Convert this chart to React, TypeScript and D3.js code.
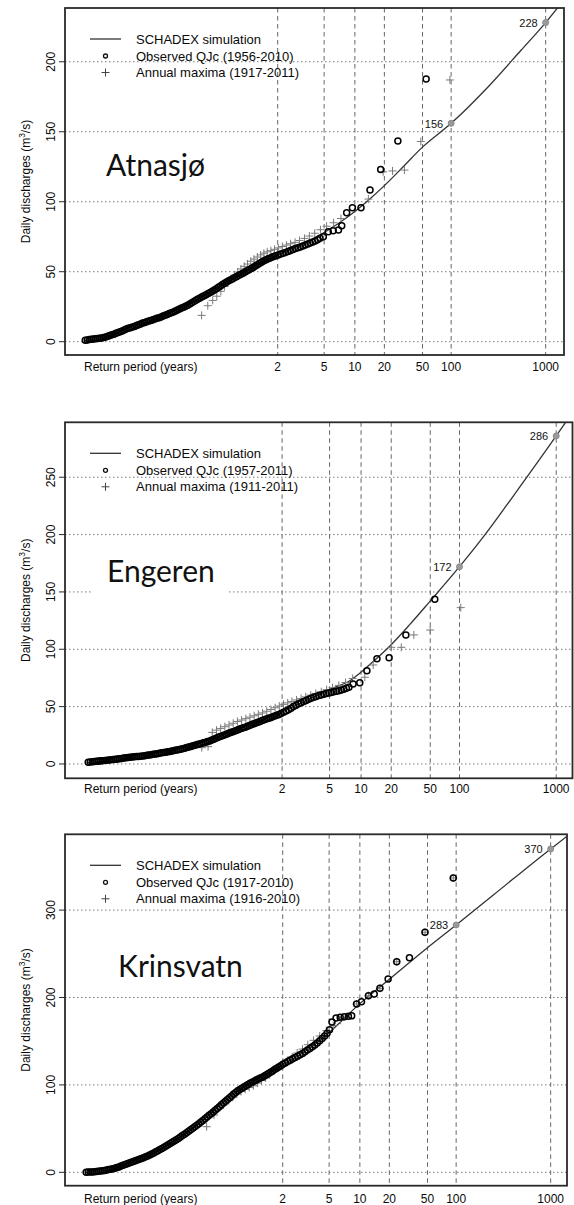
import React from 'react';
import * as d3 from 'd3';

type Pt = [number, number]; // [reduced Gumbel variate, discharge m3/s]

// Return periods (years) marked on the x axis
const returnPeriods = [2, 5, 10, 20, 50, 100, 1000];

// Reduced Gumbel variate of an annual return period
const gumbel = (T: number) => -Math.log(-Math.log(1 - 1 / T));

/* ---------------- Atnasjø ---------------- */
const atnaYTicks = [0, 50, 100, 150, 200];
const atnaSim: Pt[] = [
  [-4.35, 0.8], [-3.8, 3.8], [-3.3, 9.5], [-2.5, 17.6], [-1.7, 28.8], [-0.9, 42.5],
  [-0.1, 56], [0.37, 62], [0.75, 67], [1.1, 71], [1.5, 78], [1.9, 85.5], [2.25, 93],
  [2.58, 101], [2.97, 111.5], [3.43, 125], [3.9, 139], [4.6, 156], [5.5, 182],
  [6.3, 208], [6.907, 228], [7.4, 246],
];
const atnaObs: Pt[] = [
  [-4.33, 1.0], [-4.28, 1.3], [-4.23, 1.6], [-4.18, 1.8], [-4.13, 1.9], [-4.08, 2.1],
  [-4.03, 2.3], [-3.98, 2.5], [-3.93, 2.7], [-3.88, 3.0], [-3.83, 3.4], [-3.78, 3.9],
  [-3.73, 4.4], [-3.68, 4.9], [-3.63, 5.4], [-3.58, 6.0], [-3.53, 6.6], [-3.48, 7.1],
  [-3.43, 7.7], [-3.38, 8.4], [-3.33, 9.1], [-3.28, 9.6], [-3.23, 10.0], [-3.18, 10.5],
  [-3.13, 10.9], [-3.08, 11.5], [-3.03, 12.1], [-2.98, 12.7], [-2.93, 13.3], [-2.88, 13.8],
  [-2.83, 14.3], [-2.78, 14.8], [-2.73, 15.2], [-2.68, 15.7], [-2.63, 16.2], [-2.58, 16.7],
  [-2.53, 17.2], [-2.48, 17.7], [-2.43, 18.3], [-2.38, 18.9], [-2.33, 19.5], [-2.28, 20.1],
  [-2.23, 20.7], [-2.18, 21.3], [-2.13, 22.0], [-2.08, 22.6], [-2.03, 23.3], [-1.98, 24.0],
  [-1.93, 24.7], [-1.88, 25.4], [-1.83, 26.1], [-1.78, 26.9], [-1.73, 27.8], [-1.68, 28.7],
  [-1.63, 29.6], [-1.58, 30.5], [-1.53, 31.3], [-1.48, 32.1], [-1.43, 32.9], [-1.38, 33.6],
  [-1.33, 34.4], [-1.28, 35.2], [-1.23, 36.0], [-1.18, 36.9], [-1.13, 37.9], [-1.08, 38.9],
  [-1.03, 39.8], [-0.98, 40.8], [-0.93, 41.8], [-0.88, 42.7], [-0.83, 43.6], [-0.78, 44.3],
  [-0.73, 45.0], [-0.68, 45.8], [-0.63, 46.6], [-0.58, 47.4], [-0.53, 48.1], [-0.48, 48.9],
  [-0.43, 49.8], [-0.38, 50.6], [-0.33, 51.4], [-0.28, 52.3], [-0.23, 53.1], [-0.18, 54.0],
  [-0.13, 55.0], [-0.08, 55.9], [-0.03, 56.8], [0.02, 57.6], [0.07, 58.4], [0.12, 59.0],
  [0.17, 59.7], [0.22, 60.3], [0.27, 60.9], [0.32, 61.4], [0.38, 62.0], [0.44, 62.6],
  [0.5, 63.2], [0.56, 63.8], [0.62, 64.5], [0.68, 65.2], [0.74, 65.9], [0.8, 66.6],
  [0.86, 67.1], [0.92, 67.7], [0.98, 68.4], [1.04, 69.0], [1.1, 69.8], [1.16, 70.5],
  [1.22, 71.2], [1.28, 72.0], [1.34, 72.9], [1.4, 73.9], [1.48, 75.0],
  [1.6, 78.6], [1.72, 79.3], [1.85, 79.8], [1.93, 82.9], [2.05, 92.1], [2.19, 95.7],
  [2.4, 95.7], [2.62, 108.4], [2.88, 123.1], [3.3, 143.4], [3.99, 187.6],
];
const atnaMax: Pt[] = [
  [-1.49, 18.8], [-1.34, 25.7], [-1.22, 29.5], [-1.12, 32.5], [-1.02, 36.0], [-0.93, 39.5],
  [-0.85, 42.5], [-0.77, 45.0], [-0.69, 47.5], [-0.61, 49.8], [-0.53, 52.0], [-0.45, 53.8],
  [-0.37, 55.5], [-0.29, 57.5], [-0.21, 59.0], [-0.13, 60.5], [-0.05, 62.0], [0.03, 63.2],
  [0.11, 64.2], [0.2, 65.0], [0.29, 66.0], [0.38, 67.0], [0.48, 68.0], [0.58, 69.0],
  [0.68, 70.0], [0.79, 71.0], [0.9, 72.3], [1.02, 73.8], [1.14, 75.5], [1.27, 77.5],
  [1.41, 80.0], [1.56, 82.5], [1.73, 85.0], [1.91, 88.0], [2.58, 101.9], [2.94, 121.4],
  [3.17, 122.0], [3.46, 122.6], [3.86, 143.0], [4.57, 187.0],
];
const atnaQuantiles = [{ T: 100, q: 156 }, { T: 1000, q: 228 }];

/* ---------------- Engeren ---------------- */
const engYTicks = [0, 50, 100, 150, 200, 250];
const engSim: Pt[] = [
  [-4.3, 1.0], [-3.3, 5.6], [-2.5, 9.8], [-1.75, 16.5], [-1.2, 23.5], [-0.56, 32.5],
  [0.0, 40], [0.37, 45.5], [0.8, 53], [1.1, 58], [1.5, 65], [2.0, 73], [2.22, 79],
  [2.5, 88], [2.97, 104], [3.4, 121], [3.9, 142], [4.6, 172], [5.2, 199.5], [5.9, 234.5],
  [6.907, 286], [7.4, 312],
];
const engObs: Pt[] = [
  [-4.26, 1.5], [-4.21, 1.7], [-4.16, 1.9], [-4.11, 2.1], [-4.06, 2.3], [-4.01, 2.5],
  [-3.96, 2.7], [-3.91, 2.9], [-3.86, 3.1], [-3.81, 3.3], [-3.76, 3.5], [-3.71, 3.7],
  [-3.66, 3.9], [-3.61, 4.1], [-3.56, 4.3], [-3.51, 4.5], [-3.46, 4.8], [-3.41, 5.1],
  [-3.36, 5.4], [-3.31, 5.6], [-3.26, 5.8], [-3.21, 6.0], [-3.16, 6.2], [-3.11, 6.4],
  [-3.06, 6.6], [-3.01, 6.8], [-2.96, 7.0], [-2.91, 7.2], [-2.86, 7.5], [-2.81, 7.8],
  [-2.76, 8.1], [-2.71, 8.4], [-2.66, 8.7], [-2.61, 9.0], [-2.56, 9.3], [-2.51, 9.7],
  [-2.46, 10.0], [-2.41, 10.3], [-2.36, 10.6], [-2.31, 10.9], [-2.26, 11.3], [-2.21, 11.7],
  [-2.16, 12.1], [-2.11, 12.5], [-2.06, 12.9], [-2.01, 13.3], [-1.96, 13.8], [-1.91, 14.3],
  [-1.86, 14.8], [-1.81, 15.3], [-1.76, 15.9], [-1.71, 16.4], [-1.66, 16.9], [-1.61, 17.4],
  [-1.56, 17.9], [-1.51, 18.4], [-1.46, 19.0], [-1.41, 19.5], [-1.36, 20.1], [-1.31, 20.8],
  [-1.26, 21.6], [-1.21, 22.4], [-1.16, 23.2], [-1.11, 23.9], [-1.06, 24.6], [-1.01, 25.3],
  [-0.96, 26.0], [-0.91, 26.7], [-0.86, 27.4], [-0.81, 28.1], [-0.76, 28.8], [-0.71, 29.5],
  [-0.66, 30.2], [-0.61, 30.9], [-0.56, 31.5], [-0.51, 32.1], [-0.46, 32.8], [-0.41, 33.5],
  [-0.36, 34.3], [-0.31, 35.0], [-0.26, 35.7], [-0.21, 36.3], [-0.16, 37.0], [-0.11, 37.8],
  [-0.06, 38.5], [-0.01, 39.1], [0.04, 39.8], [0.09, 40.4], [0.14, 41.1], [0.19, 41.8],
  [0.24, 42.5], [0.29, 43.2], [0.34, 44.0], [0.4, 45.0], [0.46, 46.1], [0.52, 47.3],
  [0.58, 48.6], [0.64, 50.0], [0.7, 51.2], [0.76, 52.4], [0.82, 53.4], [0.88, 54.4],
  [0.94, 55.4], [1.0, 56.4], [1.06, 57.3], [1.12, 58.1], [1.18, 58.9], [1.24, 59.6],
  [1.3, 60.2], [1.36, 60.8], [1.42, 61.4], [1.48, 61.9], [1.54, 62.4], [1.6, 62.9],
  [1.66, 63.4], [1.72, 63.9], [1.78, 64.5], [1.84, 65.2], [1.9, 66.0], [1.96, 66.8],
  [2.06, 69.7], [2.22, 70.9], [2.39, 81.3], [2.63, 91.8], [2.92, 92.7], [3.32, 112.5],
  [4.01, 143.6],
];
const engMax: Pt[] = [
  [-1.55, 14.2], [-1.4, 15.1], [-1.3, 27.5], [-1.2, 29.5], [-1.1, 31.0], [-1.0, 32.5],
  [-0.9, 34.0], [-0.8, 35.5], [-0.7, 37.0], [-0.6, 38.3], [-0.5, 39.5], [-0.4, 40.8],
  [-0.3, 42.0], [-0.2, 43.3], [-0.1, 44.5], [0.0, 46.0], [0.1, 47.5], [0.2, 49.0],
  [0.3, 50.5], [0.4, 52.0], [0.5, 53.3], [0.6, 54.5], [0.71, 55.8], [0.82, 57.0],
  [0.93, 58.5], [1.05, 60.0], [1.17, 61.5], [1.3, 63.0], [1.43, 64.8], [1.57, 66.5],
  [1.72, 68.5], [1.88, 71.0], [2.05, 74.5], [2.34, 75.6], [2.54, 86.3], [2.97, 101.7],
  [3.21, 101.7], [3.51, 112.5], [3.9, 116.8], [4.63, 136.3],
];
const engQuantiles = [{ T: 100, q: 172 }, { T: 1000, q: 286 }];

/* ---------------- Krinsvatn ---------------- */
const krinYTicks = [0, 100, 200, 300];
const krinSim: Pt[] = [
  [-4.45, 0], [-3.85, 3.5], [-3.4, 10], [-2.96, 18.5], [-2.5, 30], [-2.07, 43],
  [-1.6, 59], [-1.17, 77], [-0.8, 91], [-0.46, 102], [-0.1, 111], [0.37, 123],
  [1.06, 143], [1.5, 160], [2.25, 193], [2.97, 221], [3.9, 257], [4.6, 283],
  [5.5, 317], [6.907, 370], [7.35, 386],
];
const krinObs: Pt[] = [
  [-4.43, 0.2], [-4.38, 0.3], [-4.33, 0.4], [-4.28, 0.5], [-4.23, 0.7], [-4.18, 0.9],
  [-4.13, 1.2], [-4.08, 1.5], [-4.03, 1.8], [-3.98, 2.2], [-3.93, 2.6], [-3.88, 3.1],
  [-3.83, 3.6], [-3.78, 4.2], [-3.73, 4.8], [-3.68, 5.5], [-3.63, 6.2], [-3.58, 7.1],
  [-3.53, 8.0], [-3.48, 8.9], [-3.43, 9.9], [-3.38, 10.8], [-3.33, 11.6], [-3.28, 12.4],
  [-3.23, 13.3], [-3.18, 14.1], [-3.13, 15.0], [-3.08, 15.9], [-3.03, 16.8], [-2.98, 17.7],
  [-2.93, 18.7], [-2.88, 19.8], [-2.83, 21.0], [-2.78, 22.2], [-2.73, 23.5], [-2.68, 24.7],
  [-2.63, 26.0], [-2.58, 27.3], [-2.53, 28.7], [-2.48, 30.1], [-2.43, 31.5], [-2.38, 32.9],
  [-2.33, 34.4], [-2.28, 35.8], [-2.23, 37.3], [-2.18, 38.8], [-2.13, 40.4], [-2.08, 42.0],
  [-2.03, 43.6], [-1.98, 45.3], [-1.93, 47.0], [-1.88, 48.6], [-1.83, 50.3], [-1.78, 52.0],
  [-1.73, 53.8], [-1.68, 55.6], [-1.63, 57.5], [-1.58, 59.4], [-1.53, 61.3], [-1.48, 63.2],
  [-1.43, 65.2], [-1.38, 67.1], [-1.33, 69.0], [-1.28, 71.0], [-1.23, 73.0], [-1.18, 75.1],
  [-1.13, 77.2], [-1.08, 79.2], [-1.03, 81.3], [-0.98, 83.3], [-0.93, 85.3], [-0.88, 87.4],
  [-0.83, 89.5], [-0.78, 91.4], [-0.73, 93.2], [-0.68, 94.7], [-0.63, 96.2], [-0.58, 97.6],
  [-0.53, 99.0], [-0.48, 100.4], [-0.43, 101.8], [-0.38, 103.0], [-0.33, 104.3], [-0.28, 105.6],
  [-0.23, 106.8], [-0.18, 107.8], [-0.13, 108.8], [-0.08, 110.1], [-0.03, 111.5], [0.02, 113.0],
  [0.07, 114.5], [0.12, 116.0], [0.17, 117.6], [0.22, 119.0], [0.27, 120.5], [0.32, 122.0],
  [0.37, 123.6], [0.43, 125.1], [0.49, 126.7], [0.55, 128.3], [0.61, 129.8], [0.67, 131.3],
  [0.73, 132.8], [0.79, 134.4], [0.85, 136.0], [0.91, 137.8], [0.97, 139.8], [1.03, 141.7],
  [1.09, 143.7], [1.15, 145.8], [1.21, 148.0], [1.27, 150.5], [1.33, 153.2], [1.39, 156.0],
  [1.45, 159.0], [1.51, 163.0],
  [1.57, 172.0], [1.67, 176.5], [1.77, 177.5], [1.87, 178.0], [1.97, 178.5], [2.05, 179.0],
  [2.17, 192.6], [2.29, 195.2], [2.46, 202.1], [2.6, 204.0], [2.74, 210.5], [2.94, 221.2],
  [3.15, 241.0], [3.46, 245.6], [3.84, 274.6], [4.53, 336.7],
];
const krinMax: Pt[] = [
  [-1.49, 52.2], [-1.31, 65.6], [-1.08, 77.0], [-0.95, 82], [-0.85, 86], [-0.75, 89.5],
  [-0.65, 92.5], [-0.55, 95], [-0.45, 97], [-0.35, 99], [-0.25, 102], [-0.15, 105],
  [-0.05, 108], [0.05, 112], [0.15, 116], [0.26, 120], [0.37, 124], [0.48, 128],
  [0.6, 132], [0.72, 136.5], [0.85, 141], [0.98, 146], [1.12, 151], [1.27, 156],
  [1.43, 162], [1.6, 168], [1.78, 174], [2.17, 192.6], [2.46, 202.1], [2.74, 210.5],
  [3.15, 241.0], [3.84, 274.6], [4.53, 336.7],
];
const krinQuantiles = [{ T: 100, q: 283 }, { T: 1000, q: 370 }];

type Panel = {
  name: string;
  obsYears: string;
  maxYears: string;
  sim: Pt[];
  obs: Pt[];
  amax: Pt[];
  quantiles: { T: number; q: number }[];
  yTicks: number[];
  box: { left: number; right: number; top: number; bottom: number };
  uDomain: [number, number];
  qDomain: [number, number];
  nameX: number;
  nameY: number;
  labelOffset: number;
};

const panels: Panel[] = [
  {
    name: 'Atnasjø', obsYears: '1956-2010', maxYears: '1917-2011',
    sim: atnaSim, obs: atnaObs, amax: atnaMax, quantiles: atnaQuantiles, yTicks: atnaYTicks,
    box: { left: 65, right: 564, top: 8, bottom: 355 },
    uDomain: [-4.825, 7.355], qDomain: [-9.5, 238.4],
    nameX: 106, nameY: 176, labelOffset: 15.5,
  },
  {
    name: 'Engeren', obsYears: '1957-2011', maxYears: '1911-2011',
    sim: engSim, obs: engObs, amax: engMax, quantiles: engQuantiles, yTicks: engYTicks,
    box: { left: 65, right: 572.5, top: 422.3, bottom: 778.3 },
    uDomain: [-4.814, 7.296], qDomain: [-12.5, 297.9],
    nameX: 107, nameY: 582, labelOffset: 15,
  },
  {
    name: 'Krinsvatn', obsYears: '1917-2010', maxYears: '1916-2010',
    sim: krinSim, obs: krinObs, amax: krinMax, quantiles: krinQuantiles, yTicks: krinYTicks,
    box: { left: 65, right: 567, top: 834.3, bottom: 1185.7 },
    uDomain: [-4.947, 7.306], qDomain: [-15.3, 386.7],
    nameX: 118, nameY: 977, labelOffset: 17.5,
  },
];

const AXIS_FONT = '"Liberation Sans", Arial, sans-serif';
const NAME_FONT = 'Lato, "Open Sans", sans-serif';
const NAME_SIZE = 30;

let measureCtx: CanvasRenderingContext2D | null = null;
function textWidth(text: string, font: string) {
  if (!measureCtx) measureCtx = document.createElement('canvas').getContext('2d');
  if (!measureCtx) return text.length * 15;
  measureCtx.font = font;
  return measureCtx.measureText(text).width;
}

function Cross({ cx, cy, s, color }: { cx: number; cy: number; s: number; color: string }) {
  return (
    <g stroke={color} strokeWidth={1}>
      <line x1={cx - s} x2={cx + s} y1={cy} y2={cy} />
      <line x1={cx} x2={cx} y1={cy - s} y2={cy + s} />
    </g>
  );
}

function PanelChart({ p, idx }: { p: Panel; idx: number }) {
  const { box } = p;
  const x = d3.scaleLinear().domain(p.uDomain).range([box.left, box.right]);
  const y = d3.scaleLinear().domain(p.qDomain).range([box.bottom, box.top]);
  const line = d3
    .line<Pt>()
    .x((d) => x(d[0]))
    .y((d) => y(d[1]))
    .curve(d3.curveMonotoneX);
  const clipId = `plot-clip-${idx}`;
  const midY = (box.top + box.bottom) / 2;
  const nameW = textWidth(p.name, `${NAME_SIZE}px ${NAME_FONT}`);
  const legendRows = [box.top + 31, box.top + 48, box.top + 64.5];
  const legendText = [
    'SCHADEX simulation',
    `Observed QJc (${p.obsYears})`,
    `Annual maxima (${p.maxYears})`,
  ];

  return (
    <g>
      <defs>
        <clipPath id={clipId}>
          <rect x={box.left} y={box.top} width={box.right - box.left} height={box.bottom - box.top} />
        </clipPath>
      </defs>

      {/* grid: dotted horizontals at y ticks, dashed verticals at return periods */}
      {p.yTicks.map((t) => (
        <line key={`h${t}`} x1={box.left} x2={box.right} y1={y(t)} y2={y(t)}
          stroke="#7a7a7a" strokeWidth={1} strokeDasharray="1.5,2.5" />
      ))}
      {returnPeriods.map((T) => (
        <line key={`v${T}`} x1={x(gumbel(T))} x2={x(gumbel(T))} y1={box.top} y2={box.bottom}
          stroke="#666" strokeWidth={1} strokeDasharray="4.5,3.5" />
      ))}

      {/* station name on a white patch */}
      <rect x={p.nameX - 14} y={p.nameY - 38} width={nameW + 28} height={51} fill="#fff" />
      <text x={p.nameX} y={p.nameY} fontFamily={NAME_FONT} fontSize={NAME_SIZE} fill="#111">
        {p.name}
      </text>

      {/* legend */}
      <line x1={90} x2={121} y1={legendRows[0]} y2={legendRows[0]} stroke="#333" strokeWidth={1.3} />
      <circle cx={105.5} cy={legendRows[1]} r={2} fill="none" stroke="#111" strokeWidth={1.3} />
      <Cross cx={105.5} cy={legendRows[2]} s={4} color="#444" />
      {legendText.map((t, i) => (
        <text key={t} x={136} y={legendRows[i] + 4.6} fontFamily={AXIS_FONT} fontSize={13} fill="#0a0a0a">
          {t}
        </text>
      ))}

      {/* data */}
      <g clipPath={`url(#${clipId})`}>
        <path d={line(p.sim) ?? ''} fill="none" stroke="#333" strokeWidth={1.3} />
        {p.amax.map((d, i) => (
          <Cross key={`m${i}`} cx={x(d[0])} cy={y(d[1])} s={4} color="#7a7a7a" />
        ))}
        {p.obs.map((d, i) => (
          <circle key={`o${i}`} cx={x(d[0])} cy={y(d[1])} r={3} fill="none" stroke="#000" strokeWidth={1.5} />
        ))}
        {p.quantiles.map((d) => (
          <circle key={`q${d.T}`} cx={x(gumbel(d.T))} cy={y(d.q)} r={3} fill="#9a9a9a" stroke="#8a8a8a" />
        ))}
      </g>
      {p.quantiles.map((d) => (
        <text key={`ql${d.T}`} x={x(gumbel(d.T)) - 8} y={y(d.q) + 4.5} textAnchor="end"
          fontFamily={AXIS_FONT} fontSize={11} fill="#111">
          {d.q}
        </text>
      ))}

      {/* frame */}
      <rect x={box.left} y={box.top} width={box.right - box.left} height={box.bottom - box.top}
        fill="none" stroke="#2a2a2a" strokeWidth={1.8} />

      {/* y axis */}
      {p.yTicks.map((t) => (
        <g key={`yt${t}`}>
          <line x1={box.left - 6} x2={box.left} y1={y(t)} y2={y(t)} stroke="#2a2a2a" strokeWidth={1} />
          <text transform={`translate(55,${y(t)}) rotate(-90)`} textAnchor="middle"
            fontFamily={AXIS_FONT} fontSize={12} fill="#0a0a0a">
            {t}
          </text>
        </g>
      ))}
      <text transform={`translate(30,${midY}) rotate(-90)`} textAnchor="middle"
        fontFamily={AXIS_FONT} fontSize={12} fill="#0a0a0a">
        Daily discharges (m
        <tspan fontSize={8.5} dy={-5}>3</tspan>
        <tspan dy={5}>/s)</tspan>
      </text>

      {/* x axis */}
      <text x={84} y={box.bottom + p.labelOffset} fontFamily={AXIS_FONT} fontSize={12} fill="#0a0a0a">
        Return period (years)
      </text>
      {returnPeriods.map((T) => (
        <text key={`xt${T}`} x={x(gumbel(T))} y={box.bottom + p.labelOffset} textAnchor="middle"
          fontFamily={AXIS_FONT} fontSize={12} fill="#0a0a0a">
          {T}
        </text>
      ))}
    </g>
  );
}

export default function App() {
  return (
    <svg width={574} height={1205} viewBox="0 0 574 1205"
      style={{ position: 'absolute', left: 0, top: 0, background: '#fff' }}>
      <rect width={574} height={1205} fill="#fff" />
      {panels.map((p, i) => (
        <PanelChart key={p.name} p={p} idx={i} />
      ))}
    </svg>
  );
}
